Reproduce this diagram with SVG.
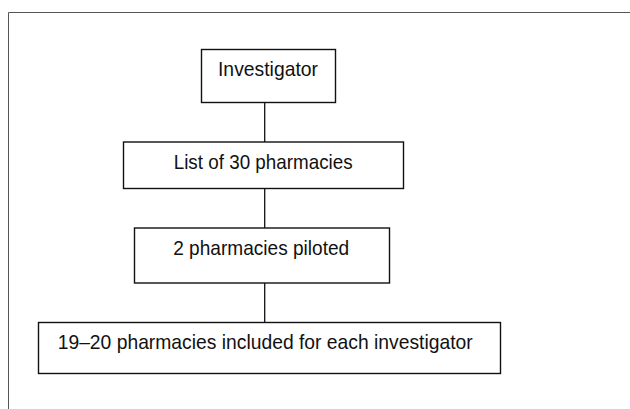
<svg xmlns="http://www.w3.org/2000/svg" width="630" height="409" viewBox="0 0 630 409">
<style>
.frame{fill:none;stroke:#555;stroke-width:1}
.box{fill:#fff;stroke:#111;stroke-width:1.4}
.conn{stroke:#111;stroke-width:1.3;fill:none}
text{font-family:"Liberation Sans",Arial,sans-serif;font-size:21px;fill:#111;text-anchor:middle}
</style>
<rect width="630" height="409" fill="#fff"/>
<path class="frame" d="M8.5,409 V12.5 H630"/>
<g id="connectors">
<line class="conn" x1="264.7" y1="102" x2="264.7" y2="142"/>
<line class="conn" x1="264.7" y1="188" x2="264.7" y2="228"/>
<line class="conn" x1="264.7" y1="283" x2="264.7" y2="322"/>
</g>
<g id="n1">
<rect class="box" x="201.5" y="49.5" width="134" height="53"/>
<text x="268" y="75.8" textLength="100" lengthAdjust="spacingAndGlyphs">Investigator</text>
</g>
<g id="n2">
<rect class="box" x="123.5" y="142" width="280" height="46.5"/>
<text x="263.2" y="169.3" textLength="179" lengthAdjust="spacingAndGlyphs">List of 30 pharmacies</text>
</g>
<g id="n3">
<rect class="box" x="134.5" y="228" width="255" height="55"/>
<text x="261.2" y="255.2" textLength="176" lengthAdjust="spacingAndGlyphs">2 pharmacies piloted</text>
</g>
<g id="n4">
<rect class="box" x="38.5" y="322.5" width="462" height="51"/>
<text x="265.2" y="349.4" textLength="415" lengthAdjust="spacingAndGlyphs">19–20 pharmacies included for each investigator</text>
</g>
</svg>
